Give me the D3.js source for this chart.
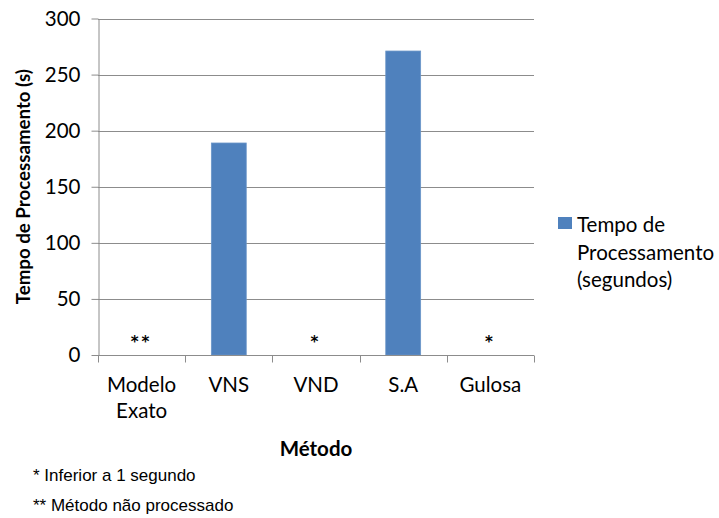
<!DOCTYPE html>
<html>
<head>
<meta charset="utf-8">
<script src="https://cdn.jsdelivr.net/npm/d3@7"></script>
<style>
  html, body { margin: 0; padding: 0; background: #fff; }
  svg { display: block; }
  text { fill: #000; }
</style>
</head>
<body>
<svg id="chart" width="719" height="518"></svg>
<script>
// Processing time per method, in seconds (0 = under one second / not run)
const categories = ["Modelo\nExato", "VNS", "VND", "S.A", "Gulosa"];
const seconds = [0, 189, 0, 271, 0];
const marks = ["**", "", "*", "", "*"];
const yTicks = [0, 50, 100, 150, 200, 250, 300];
const legendLines = ["Tempo de", "Processamento", "(segundos)"];
const footnotes = ["* Inferior a 1 segundo", "** Método não processado"];

const svg = d3.select("#chart");
const plot = { left: 98, right: 534, top: 18.5, bottom: 355 };
const uiFont = "Lato, 'Open Sans', sans-serif";
const fs = 20.5;

const x = d3.scaleBand()
  .domain(categories)
  .range([plot.left, plot.right])
  .paddingInner(0.6)
  .paddingOuter(0.3);

const y = d3.scaleLinear()
  .domain([0, 300])
  .range([plot.bottom, plot.top]);

// horizontal gridlines
svg.append("g")
  .selectAll("line")
  .data(yTicks.filter(d => d > 0))
  .join("line")
  .attr("x1", plot.left).attr("x2", plot.right)
  .attr("y1", d => Math.round(y(d)) + 0.5).attr("y2", d => Math.round(y(d)) + 0.5)
  .attr("stroke", "#8c8c8c").attr("stroke-width", 1);

// bars
svg.append("g")
  .selectAll("rect")
  .data(categories.map((c, i) => ({ c, v: seconds[i] })).filter(d => d.v > 0))
  .join("rect")
  .attr("x", d => x(d.c))
  .attr("y", d => y(d.v))
  .attr("width", x.bandwidth())
  .attr("height", d => y(0) - y(d.v))
  .attr("fill", "#4f81bd")
  .attr("stroke", "#6a95c8")
  .attr("stroke-width", 0.8);

// y axis
const yAxis = svg.append("g")
  .attr("transform", `translate(${plot.left + 0.5},0)`)
  .call(d3.axisLeft(y).tickValues(yTicks).tickSize(7).tickPadding(8).tickSizeOuter(0));
yAxis.select(".domain").attr("stroke", "#8c8c8c");
yAxis.selectAll(".tick line").attr("stroke", "#8c8c8c");
yAxis.selectAll(".tick text")
  .attr("font-family", uiFont).attr("font-size", fs).attr("fill", "#000")
  .attr("dx", -3);

// x axis with tick marks at category boundaries
const xAxisG = svg.append("g")
  .attr("transform", `translate(0,${Math.round(plot.bottom) + 0.5})`);
xAxisG.append("line")
  .attr("x1", plot.left).attr("x2", plot.right)
  .attr("stroke", "#8c8c8c");
const boundaries = d3.range(categories.length + 1).map(i => plot.left + i * (plot.right - plot.left) / categories.length);
xAxisG.selectAll("line.tk")
  .data(boundaries)
  .join("line")
  .attr("class", "tk")
  .attr("x1", d => Math.round(d) + 0.5).attr("x2", d => Math.round(d) + 0.5)
  .attr("y1", 0).attr("y2", 7)
  .attr("stroke", "#8c8c8c");

// category labels
const catLabels = svg.append("g")
  .selectAll("text")
  .data(categories)
  .join("text")
  .attr("x", d => x(d) + x.bandwidth() / 2)
  .attr("y", 392)
  .attr("text-anchor", "middle")
  .attr("font-family", uiFont)
  .attr("font-size", fs);
catLabels.each(function(d) {
  const t = d3.select(this);
  d.split("\n").forEach((line, i) => {
    t.append("tspan")
      .attr("x", x(d) + x.bandwidth() / 2)
      .attr("dy", i === 0 ? 0 : 26)
      .text(line);
  });
});

// value marks for methods without a measurable time
svg.append("g")
  .selectAll("text")
  .data(categories.map((c, i) => ({ c, m: marks[i], v: seconds[i] })).filter(d => d.m))
  .join("text")
  .attr("x", d => x(d.c) + x.bandwidth() / 2)
  .attr("y", d => y(d.v) - 8)
  .attr("text-anchor", "middle")
  .attr("font-family", "'DejaVu Sans', sans-serif")
  .attr("font-weight", "bold")
  .attr("font-size", 15)
  .attr("letter-spacing", 3)
  .text(d => d.m);

// axis titles
svg.append("text")
  .attr("transform", `translate(30,${(plot.top + plot.bottom) / 2}) rotate(-90)`)
  .attr("text-anchor", "middle")
  .attr("font-family", uiFont)
  .attr("font-weight", "bold")
  .attr("font-size", 18.7)
  .text("Tempo de Processamento (s)");

svg.append("text")
  .attr("x", 316)
  .attr("y", 456)
  .attr("text-anchor", "middle")
  .attr("font-family", uiFont)
  .attr("font-weight", "bold")
  .attr("font-size", 20.5)
  .text("Método");

// legend
const legend = svg.append("g");
legend.append("rect")
  .attr("x", 558).attr("y", 217)
  .attr("width", 14).attr("height", 12)
  .attr("fill", "#4f81bd");
legend.selectAll("text")
  .data(legendLines)
  .join("text")
  .attr("x", 577)
  .attr("y", (d, i) => 232 + i * 27.5)
  .attr("font-family", uiFont)
  .attr("font-size", fs)
  .text(d => d);

// footnotes
svg.append("g")
  .selectAll("text")
  .data(footnotes)
  .join("text")
  .attr("x", 33)
  .attr("y", (d, i) => 480.5 + i * 30.5)
  .attr("font-family", "'Liberation Sans', Arial, sans-serif")
  .attr("font-size", 17)
  .text(d => d);
</script>
</body>
</html>
